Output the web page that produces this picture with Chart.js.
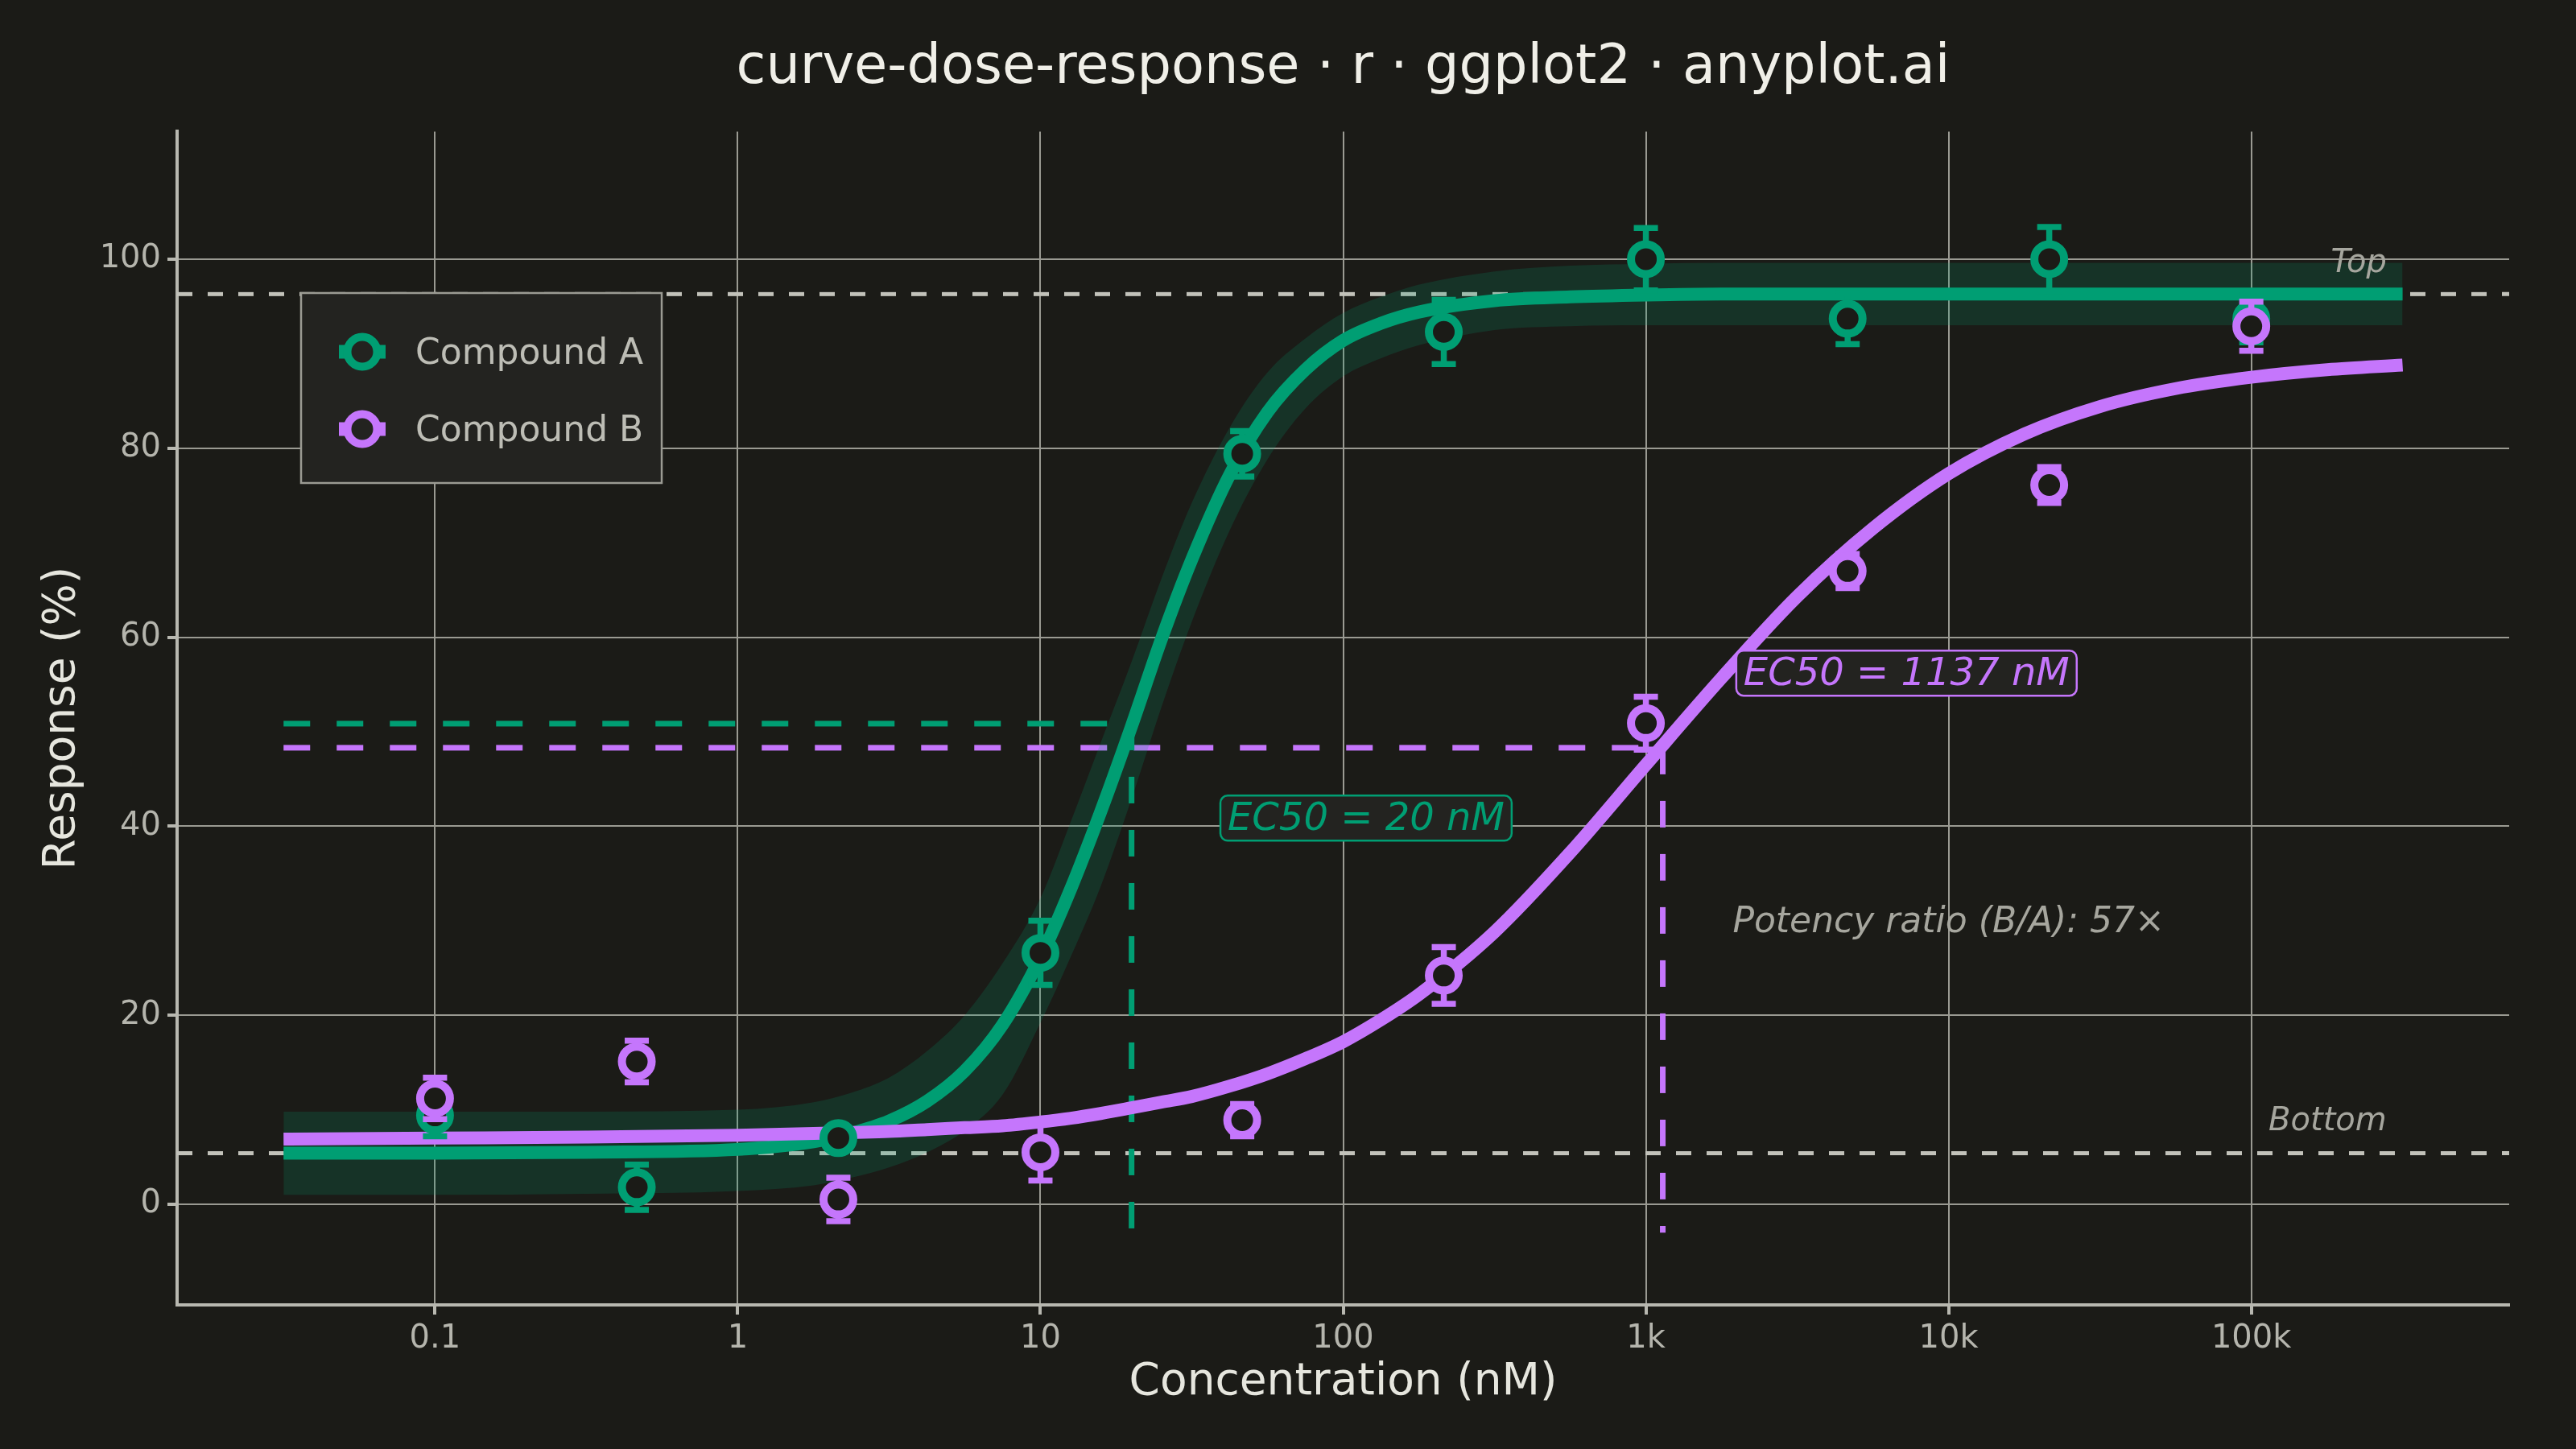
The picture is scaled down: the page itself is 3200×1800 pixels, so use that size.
<!DOCTYPE html>
<html>
<head>
<meta charset="utf-8">
<title>curve-dose-response</title>
<script src="https://cdn.jsdelivr.net/npm/chart.js@4.4.1/dist/chart.umd.min.js"></script>
<style>
  html, body { margin: 0; padding: 0; background: #1b1b17; }
  #chart { display: block; }
</style>
</head>
<body>
<canvas id="chart" width="3200" height="1800"></canvas>
<script>
// Measured concentrations (nM), mean response (%) and error (SEM)
const concentrations = [0.1, 0.464, 2.15, 10, 46.4, 215, 1000, 4640, 21500, 100000];
const responseA = [9.4, 1.8, 7.0, 26.6, 79.4, 92.3, 100.0, 93.7, 100.0, 93.7];
const errorA = [2.2, 2.4, 1.2, 3.4, 2.4, 3.4, 3.3, 2.7, 3.4, 2.5];
const responseB = [11.2, 15.1, 0.5, 5.5, 8.9, 24.2, 50.9, 67.0, 76.1, 92.9];
const errorB = [2.2, 2.2, 2.3, 3.0, 1.7, 3.0, 2.8, 1.8, 1.9, 2.6];

// Fitted 4PL curves
const fitConc = [0.0316, 0.1, 0.316, 1, 1.78, 2.37, 3.16, 4.22, 5.62, 7.5, 10, 12.6, 15.8, 20, 25.1, 31.6, 42.2,
  56.2, 75, 100, 133, 178, 316, 562, 1000, 1780, 3160, 5620, 10000, 17800, 31600, 56200, 100000, 178000, 316000];
const fitA = [5.4, 5.4, 5.5, 5.8, 6.6, 7.5, 8.8, 10.9, 14.1, 19.0, 26.1, 33.4, 41.5, 50.6, 59.8, 68.2, 77.2,
  83.8, 88.3, 91.4, 93.2, 94.4, 95.6, 96.0, 96.2, 96.3, 96.3, 96.3, 96.3, 96.3, 96.3, 96.3, 96.3, 96.3, 96.3];
const fitAUpper = [9.8, 9.8, 9.8, 10.0, 10.8, 11.8, 13.4, 16.2, 20.0, 25.5, 32.4, 40.5, 48.8, 57.4, 66.2, 74.2, 82.2,
  88.0, 91.6, 94.3, 96.0, 97.3, 98.7, 99.3, 99.5, 99.6, 99.6, 99.6, 99.6, 99.6, 99.6, 99.6, 99.6, 99.6, 99.6];
const fitALower = [1.0, 1.0, 1.1, 1.4, 2.0, 2.8, 3.9, 5.5, 7.8, 11.6, 19.2, 26.2, 33.6, 42.9, 52.6, 61.6, 71.3,
  78.8, 84.2, 87.6, 89.5, 90.9, 92.5, 92.9, 93.0, 93.0, 93.0, 93.0, 93.0, 93.0, 93.0, 93.0, 93.0, 93.0, 93.0];
const fitB = [6.9, 7.0, 7.1, 7.3, 7.5, 7.6, 7.7, 7.9, 8.1, 8.3, 8.7, 9.1, 9.6, 10.2, 10.8, 11.4, 12.5,
  13.8, 15.4, 17.2, 19.5, 22.2, 28.8, 37.2, 46.5, 55.7, 64.3, 71.5, 77.3, 81.5, 84.4, 86.3, 87.5, 88.3, 88.8];

// EC50 markers, plateaus
const compounds = ['Compound A', 'Compound B'];
const ec50 = [20, 1137];
const ec50Response = [50.85, 48.3];
const plateau = [96.3, 5.4];
const dropFloor = -3;
const potencyRatio = 57;

// Axes
const xTicks = [0.1, 1, 10, 100, 1000, 10000, 100000];
const xTickLabels = ['0.1', '1', '10', '100', '1k', '10k', '100k'];
const yTicks = [0, 20, 40, 60, 80, 100];
const xLimits = [0.01406, 711000];
const yLimits = [-10.65, 113.5];

const BG = '#1b1b17';
const GREEN = '#009E73';
const PURPLE = '#C576FC';
const REF = '#c2c2ba';
const FONT = '"DejaVu Sans", sans-serif';

const toXY = (xs, ys) => xs.map((x, i) => ({ x: x, y: ys[i] }));

const datasets = [
  // reference plateaus
  { data: [{ x: xLimits[0], y: plateau[0] }, { x: xLimits[1], y: plateau[0] }],
    showLine: true, borderColor: REF, borderWidth: 5, borderDash: [19, 19], pointRadius: 0, order: 20 },
  { data: [{ x: xLimits[0], y: plateau[1] }, { x: xLimits[1], y: plateau[1] }],
    showLine: true, borderColor: REF, borderWidth: 5, borderDash: [19, 19], pointRadius: 0, order: 20 },
  // EC50 drop lines
  { data: [{ x: fitConc[0], y: ec50Response[0] }, { x: ec50[0], y: ec50Response[0] }],
    showLine: true, borderColor: GREEN, borderWidth: 7, borderDash: [33, 33], pointRadius: 0, order: 18 },
  { data: [{ x: ec50[0], y: ec50Response[0] }, { x: ec50[0], y: dropFloor }],
    showLine: true, borderColor: GREEN, borderWidth: 7, borderDash: [33, 33], pointRadius: 0, order: 18 },
  { data: [{ x: fitConc[0], y: ec50Response[1] }, { x: ec50[1], y: ec50Response[1] }],
    showLine: true, borderColor: PURPLE, borderWidth: 7, borderDash: [33, 33], pointRadius: 0, order: 18 },
  { data: [{ x: ec50[1], y: ec50Response[1] }, { x: ec50[1], y: dropFloor }],
    showLine: true, borderColor: PURPLE, borderWidth: 7, borderDash: [33, 33], pointRadius: 0, order: 18 },
  // confidence band for compound A
  { data: toXY(fitConc, fitAUpper), showLine: true, borderWidth: 0, borderColor: 'rgba(0,0,0,0)',
    pointRadius: 0, fill: '+1', backgroundColor: 'rgba(0,158,115,0.18)', cubicInterpolationMode: 'monotone', order: 16 },
  { data: toXY(fitConc, fitALower), showLine: true, borderWidth: 0, borderColor: 'rgba(0,0,0,0)',
    pointRadius: 0, cubicInterpolationMode: 'monotone', order: 16 },
  // fitted curves
  { data: toXY(fitConc, fitA), showLine: true, borderColor: GREEN, borderWidth: 16, pointRadius: 0,
    cubicInterpolationMode: 'monotone', order: 14 },
  { data: toXY(fitConc, fitB), showLine: true, borderColor: PURPLE, borderWidth: 16, pointRadius: 0,
    cubicInterpolationMode: 'monotone', order: 12 },
  // observed points
  { label: compounds[0], data: toXY(concentrations, responseA), errors: errorA, showLine: false,
    borderColor: GREEN, pointBorderColor: GREEN, pointBackgroundColor: BG, pointRadius: 18.5, pointBorderWidth: 10, order: 10 },
  { label: compounds[1], data: toXY(concentrations, responseB), errors: errorB, showLine: false,
    borderColor: PURPLE, pointBorderColor: PURPLE, pointBackgroundColor: BG, pointRadius: 18.5, pointBorderWidth: 10, order: 8 }
];

// Error bars, drawn just before their points
const errorBarPlugin = {
  id: 'errorBars',
  beforeDatasetDraw(chart, args) {
    const ds = chart.data.datasets[args.index];
    if (!ds.errors) return;
    const { ctx, scales: { x, y } } = chart;
    ctx.save();
    ctx.strokeStyle = ds.borderColor;
    ctx.lineWidth = 7.5;
    ds.data.forEach((p, i) => {
      const px = x.getPixelForValue(p.x);
      const yTop = y.getPixelForValue(p.y + ds.errors[i]);
      const yBot = y.getPixelForValue(p.y - ds.errors[i]);
      ctx.beginPath();
      ctx.moveTo(px, yTop); ctx.lineTo(px, yBot);
      ctx.moveTo(px - 15, yTop); ctx.lineTo(px + 15, yTop);
      ctx.moveTo(px - 15, yBot); ctx.lineTo(px + 15, yBot);
      ctx.stroke();
    });
    ctx.restore();
  }
};

// Text annotations and legend
const annotationPlugin = {
  id: 'annotations',
  afterDatasetsDraw(chart) {
    const { ctx, scales: { x, y } } = chart;
    const boxed = (text, xv, yv, color) => {
      ctx.font = 'italic 48px ' + FONT;
      const cx = x.getPixelForValue(xv), cy = y.getPixelForValue(yv);
      const w = ctx.measureText(text).width + 18, h = 56;
      ctx.beginPath();
      ctx.roundRect(cx - w / 2, cy - h / 2, w, h, 9);
      ctx.fillStyle = '#232320';
      ctx.fill();
      ctx.lineWidth = 2.5;
      ctx.strokeStyle = color;
      ctx.stroke();
      ctx.fillStyle = color;
      ctx.textAlign = 'center';
      ctx.textBaseline = 'middle';
      ctx.fillText(text, cx, cy + 2);
    };
    ctx.save();
    boxed('EC50 = ' + ec50[0] + ' nM', 119, 40.85, GREEN);
    boxed('EC50 = ' + ec50[1] + ' nM', 7260, 56.2, PURPLE);

    ctx.fillStyle = '#a6a69e';
    ctx.textBaseline = 'middle';
    ctx.font = 'italic 44px ' + FONT;
    ctx.textAlign = 'center';
    ctx.fillText('Potency ratio (B/A): ' + potencyRatio + '×', x.getPixelForValue(10000), y.getPixelForValue(29.8));
    ctx.font = 'italic 40px ' + FONT;
    ctx.textAlign = 'right';
    ctx.fillText('Top', x.getPixelForValue(280000), y.getPixelForValue(plateau[0] + 3.2));
    ctx.fillText('Bottom', x.getPixelForValue(280000), y.getPixelForValue(plateau[1] + 3.3));
    ctx.restore();
  },
  afterDraw(chart) {
    const ctx = chart.ctx;
    ctx.save();
    ctx.fillStyle = '#232320';
    ctx.fillRect(374, 364, 448, 236);
    ctx.strokeStyle = '#9b9b93';
    ctx.lineWidth = 2.5;
    ctx.strokeRect(374, 364, 448, 236);
    const colors = [GREEN, PURPLE];
    const rows = [437, 533];
    compounds.forEach((name, i) => {
      ctx.strokeStyle = colors[i];
      ctx.lineWidth = 17;
      ctx.beginPath();
      ctx.moveTo(421, rows[i]); ctx.lineTo(479, rows[i]);
      ctx.stroke();
      ctx.beginPath();
      ctx.arc(450, rows[i], 18.5, 0, Math.PI * 2);
      ctx.fillStyle = '#232320';
      ctx.fill();
      ctx.lineWidth = 10;
      ctx.stroke();
      ctx.fillStyle = '#bdbdb5';
      ctx.font = '44px ' + FONT;
      ctx.textAlign = 'left';
      ctx.textBaseline = 'middle';
      ctx.fillText(name, 516, rows[i] + 4);
    });
    ctx.restore();
  }
};

const bgPlugin = {
  id: 'bg',
  beforeDraw(chart) {
    const ctx = chart.ctx;
    ctx.save();
    ctx.fillStyle = BG;
    ctx.fillRect(0, 0, chart.width, chart.height);
    ctx.restore();
  }
};

new Chart(document.getElementById('chart'), {
  type: 'scatter',
  data: { datasets: datasets },
  plugins: [bgPlugin, errorBarPlugin, annotationPlugin],
  options: {
    responsive: false,
    devicePixelRatio: 1,
    animation: false,
    layout: { padding: { left: 0, right: 83, top: 0, bottom: 0 } },
    plugins: {
      legend: { display: false },
      tooltip: { enabled: false },
      title: {
        display: true,
        fullSize: false,
        text: 'curve-dose-response · r · ggplot2 · anyplot.ai',
        color: '#f0efe8',
        font: { family: FONT, size: 67, weight: 'normal' },
        padding: { top: 45, bottom: 38 }
      }
    },
    scales: {
      x: {
        type: 'logarithmic',
        min: xLimits[0],
        max: xLimits[1],
        afterBuildTicks: (scale) => { scale.ticks = xTicks.map(v => ({ value: v })); },
        afterFit: (scale) => { scale.height = 179; },
        ticks: {
          autoSkip: false, maxRotation: 0, padding: 7,
          color: '#b5b5ad', font: { family: FONT, size: 40 },
          callback: (value, index) => xTickLabels[index]
        },
        grid: { color: '#9a9a92', lineWidth: 2, tickColor: '#b8b8b0', tickLength: 12, tickWidth: 4 },
        border: { display: true, color: '#b8b8b0', width: 4 },
        title: {
          display: true, text: 'Concentration (nM)', color: '#e6e6de',
          font: { family: FONT, size: 55 }, padding: { top: 0, bottom: 49 }
        }
      },
      y: {
        type: 'linear',
        min: yLimits[0],
        max: yLimits[1],
        afterBuildTicks: (scale) => { scale.ticks = yTicks.map(v => ({ value: v })); },
        afterFit: (scale) => { scale.width = 220; },
        ticks: {
          autoSkip: false, padding: 8,
          color: '#b5b5ad', font: { family: FONT, size: 40 }
        },
        grid: { color: '#9a9a92', lineWidth: 2, tickColor: '#b8b8b0', tickLength: 12, tickWidth: 4 },
        border: { display: true, color: '#b8b8b0', width: 4 },
        title: {
          display: true, text: 'Response (%)', color: '#e6e6de',
          font: { family: FONT, size: 55 }, padding: { top: 45, bottom: 0 }
        }
      }
    }
  }
});
</script>
</body>
</html>
